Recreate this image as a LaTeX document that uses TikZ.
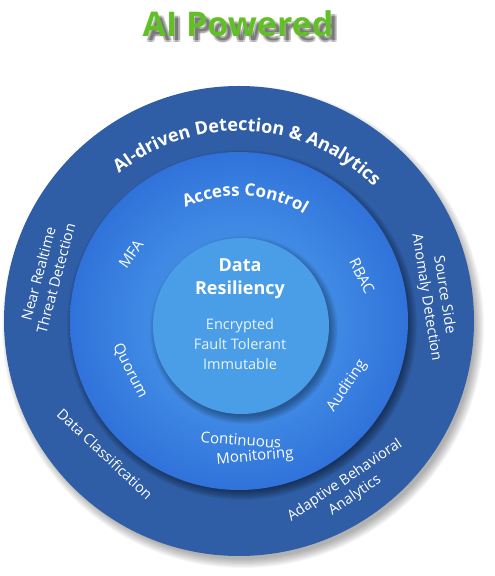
\documentclass[tikz,border=0pt]{standalone}
\usepackage{fontspec}
\setmainfont{Open Sans}
\usetikzlibrary{decorations.text}
\definecolor{outerblue}{RGB}{47,94,166}
\definecolor{innerblue}{RGB}{74,158,232}
\definecolor{midA}{RGB}{64,138,228}
\definecolor{midB}{RGB}{48,114,218}
\definecolor{titlegreen}{RGB}{98,192,38}
\definecolor{softwhite}{RGB}{236,243,252}
\pgfdeclareradialshading{midshade}{\pgfpoint{0bp}{0bp}}{color(0bp)=(midA); color(14bp)=(midA); color(25bp)=(midB); color(50bp)=(midB)}
\begin{document}
\begin{tikzpicture}[x=1pt,y=1pt,
  ringlbl/.style={text=white, font=\fontsize{14.5}{18}\selectfont, align=center, inner sep=0pt},
  midlbl/.style={text=white, font=\fontsize{15}{18}\selectfont, align=center, inner sep=0pt},
  titlestyle/.style={font=\fontsize{34}{34}\selectfont\bfseries, inner sep=0pt}]
\useasboundingbox (0,0) rectangle (495,576);
% title with soft shadow
\foreach \dx/\dy [count=\i] in {-1/-1,1/-1,-1/1,1/1}{
  \node[titlestyle, text=black, opacity=0.17] (tsh\i) at (243+\dx,547+\dy) {AI Powered};
}
\node[titlestyle, text=titlegreen] (title) at (238,552) {AI Powered};
% outer ring shadow
\foreach \k in {0,...,9}{\fill[black, opacity=0.035] (243,249) circle (232+\k);}
\fill[outerblue] (239,255) circle (235);
% middle circle shadow
\foreach \k in {0,...,9}{\fill[black, opacity=0.05] (242,251) circle (166+\k);}
\shade[shading=midshade] (239,255) circle (169);
% inner circle shadow
\foreach \k in {0,...,8}{\fill[black, opacity=0.045] (244,246) circle (86+\k);}
\fill[innerblue] (241,250) circle (88);
% curved headings
\path[postaction={decorate}, decoration={text along path, text align=center,
  text={|\color{white}\fontsize{18}{18}\selectfont\bfseries|AI-driven Detection {\&} Analytics}}]
  (239,255) ++(170:190) arc[start angle=170, end angle=4, radius=190];
\path[postaction={decorate}, decoration={text along path, text align=center,
  text={|\color{white}\fontsize{17}{17}\selectfont\bfseries|Access Control}}]
  (239,255) ++(150:125) arc[start angle=150, end angle=24, radius=125];
% core
\node[text=white, font=\fontsize{18}{23}\selectfont\bfseries, align=center] (core) at (240,297) {Data\\Resiliency};
\node[text=softwhite, font=\fontsize{14.5}{20}\selectfont, align=center] (props) at (240,232) {Encrypted\\Fault Tolerant\\Immutable};
% access control items
\node[midlbl, rotate=55] (mfa) at (131,322) {MFA};
\node[midlbl, rotate=-63] (rbac) at (362,300) {RBAC};
\node[midlbl, rotate=-63] (quorum) at (130,205) {Quorum};
\node[midlbl, rotate=56] (audit) at (347,190) {Auditing};
\node[midlbl, rotate=-4] (cont) at (241,136) {Continuous};
\node[midlbl, rotate=5] (monit) at (255,119) {Monitoring};
% outer ring items
\node[ringlbl, rotate=75] (near) at (47,300) {Near Realtime\\Threat Detection};
\node[ringlbl, rotate=-81] (source) at (435,280) {Source Side\\Anomaly Detection};
\node[ringlbl, rotate=-43] (dclass) at (105,122) {Data Classification};
\node[ringlbl, rotate=34] (adapt) at (350,88) {Adaptive Behavioral\\Analytics};
\end{tikzpicture}
\end{document}
